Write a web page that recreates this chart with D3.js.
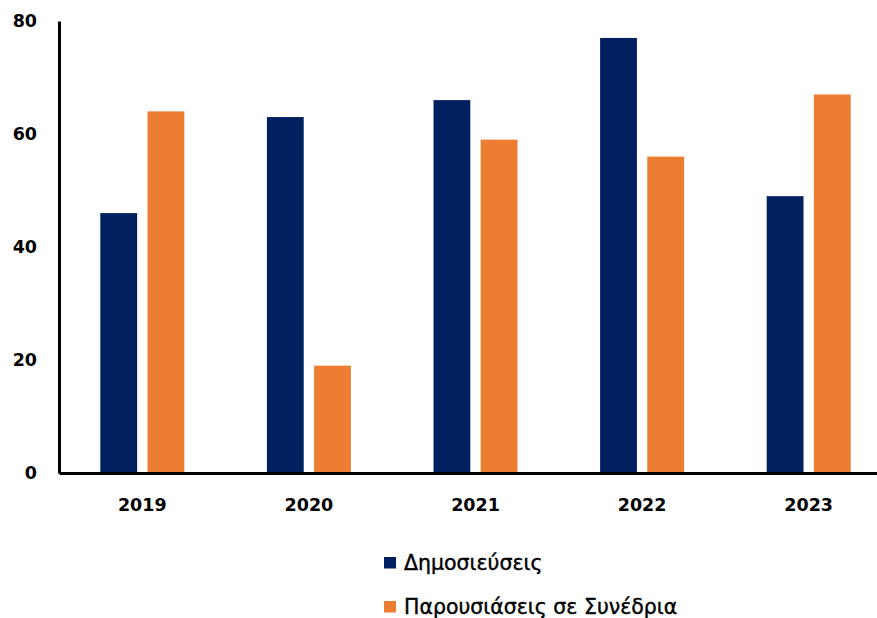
<!DOCTYPE html>
<html><head><meta charset="utf-8">
<script src="https://cdn.jsdelivr.net/npm/d3@7"></script>
<style>body{margin:0;background:#fff}svg{display:block}</style>
</head><body>
<script>
const categories = ["2019","2020","2021","2022","2023"];
const seriesNames = ["Δημοσιεύσεις","Παρουσιάσεις σε Συνέδρια"];
const publications = [46,63,66,77,49];
const presentations = [64,19,59,56,67];
const yTicks = [0,20,40,60,80];
const colors = ["#002060","#ED7D31"];

const W=877,H=618;
const svg=d3.select("body").append("svg").attr("width",W).attr("height",H);
const x=d3.scaleBand().domain(categories).range([59,892]);
const y=d3.scaleLinear().domain([0,80]).range([473,21]);
const inner=d3.scaleBand().domain(seriesNames).paddingInner(0.22);

const data=categories.map((c,i)=>({c,vals:[publications[i],presentations[i]]}));
const g=svg.append("g");
data.forEach(d=>{
  const cx=x(d.c)+x.bandwidth()/2;
  inner.range([cx-42,cx+42]);
  d.vals.forEach((v,j)=>{
    g.append("rect").attr("x",inner(seriesNames[j])).attr("width",inner.bandwidth())
      .attr("y",y(v)).attr("height",y(0)-y(v)).attr("fill",colors[j]);
  });
});

// axes
const yAxis=svg.append("g").attr("transform","translate(59,0)")
  .call(d3.axisLeft(y).tickValues(yTicks).tickSize(0).tickPadding(22));
yAxis.select(".domain").attr("stroke","#000").attr("stroke-width",3);
yAxis.selectAll("text").attr("font-family","DejaVu Sans").attr("font-weight","bold").attr("font-size","17.5px").attr("fill","#000");

const xAxis=svg.append("g").attr("transform","translate(0,473)")
  .call(d3.axisBottom(x).tickSize(0).tickPadding(26));
xAxis.select(".domain").attr("stroke","#000").attr("stroke-width",3);
xAxis.selectAll("text").attr("font-family","DejaVu Sans").attr("font-weight","bold").attr("font-size","17.5px").attr("fill","#000");

// legend
const leg=svg.append("g");
seriesNames.forEach((s,i)=>{
  const yy=557+i*44;
  leg.append("rect").attr("x",384).attr("y",yy).attr("width",12).attr("height",11.5).attr("fill",colors[i]);
  leg.append("text").attr("x",404).attr("y",yy+12.5).text(s)
    .attr("font-family","DejaVu Sans").attr("font-size","20.5px").attr("fill","#000")
    .attr("stroke","#000").attr("stroke-width",0.4);
});
</script>
</body></html>
